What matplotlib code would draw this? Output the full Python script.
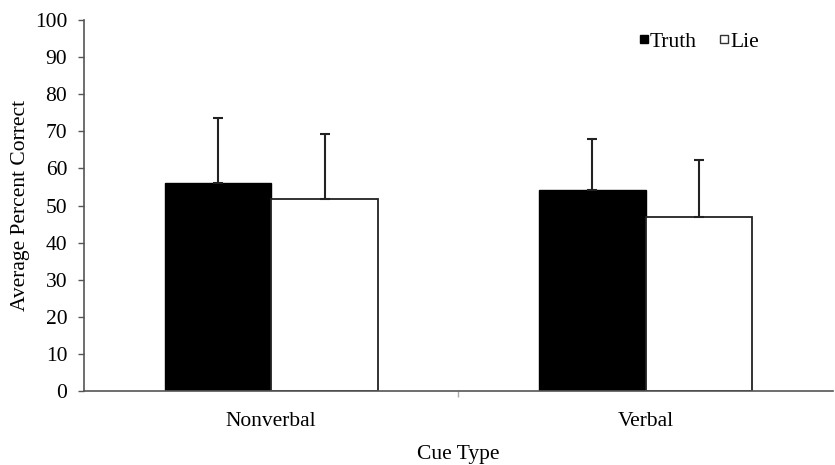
import matplotlib
matplotlib.use('Agg')
import matplotlib.pyplot as plt
from matplotlib.lines import Line2D
import numpy as np

plt.rcParams['font.family'] = ['Liberation Serif', 'DejaVu Serif']

# Данные
categories = ['Nonverbal', 'Verbal']
truth_means = [56.1, 54.2]
lie_means = [51.7, 46.9]
truth_sd = [17.4, 13.6]
lie_sd = [17.5, 15.3]

x = np.arange(len(categories))
w = 0.285
axis_col = '#555555'

fig = plt.figure(figsize=(8.35, 4.65), dpi=100)
ax = fig.add_axes([0.1006, 0.159, 0.897, 0.798])

ax.bar(x - w/2, truth_means, w, color='black', edgecolor='black', linewidth=1,
       yerr=[np.zeros(2), truth_sd], error_kw=dict(ecolor='#222222', elinewidth=1.5, capsize=3.6, capthick=1.5))
ax.bar(x + w/2, lie_means, w, color='white', edgecolor='#222222', linewidth=1.3,
       yerr=[np.zeros(2), lie_sd], error_kw=dict(ecolor='#222222', elinewidth=1.5, capsize=3.6, capthick=1.5))

ax.set_xlim(-0.5, 1.5)
ax.set_ylim(0, 100)
ax.set_yticks(np.arange(0, 101, 10))
ax.set_xticks(x)
ax.set_xticklabels(categories)
ax.set_xticks([0.5], minor=True)

for s in ['top', 'right']:
    ax.spines[s].set_visible(False)
for s in ['left', 'bottom']:
    ax.spines[s].set_color(axis_col)
    ax.spines[s].set_linewidth(1.2)

ax.tick_params(axis='y', length=4, width=1, color=axis_col, pad=8, labelsize=15.5)
ax.tick_params(axis='x', which='major', length=0, pad=15, labelsize=15.5)
ax.tick_params(axis='x', which='minor', length=4, width=1, color='#aaaaaa')

ax.set_xlabel('Cue Type', fontsize=15.5, labelpad=10)
ax.set_ylabel('Average Percent Correct', fontsize=15.5, labelpad=3.7)

handles = [Line2D([], [], marker='s', linestyle='none', markersize=6,
                  markerfacecolor='black', markeredgecolor='black'),
           Line2D([], [], marker='s', linestyle='none', markersize=6,
                  markerfacecolor='white', markeredgecolor='#333333')]
ax.legend(handles, ['Truth', 'Lie'], ncol=2, frameon=False, fontsize=15.5,
          handlelength=0.5, handletextpad=0.05, columnspacing=1.0,
          loc='upper left', bbox_to_anchor=(0.714, 1.02))

fig.savefig('out.png', dpi=100)
